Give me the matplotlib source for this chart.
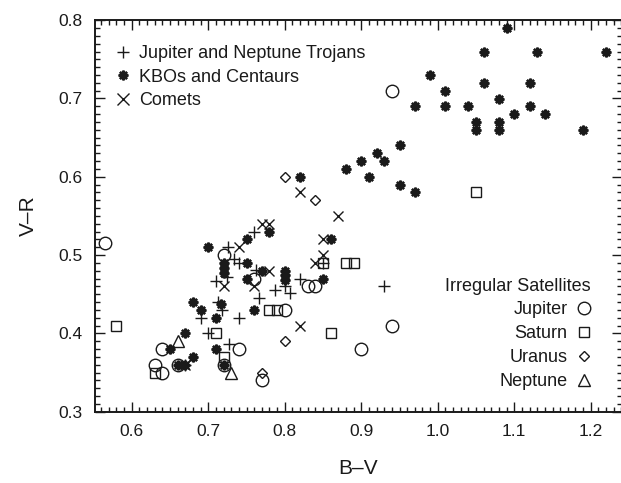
import matplotlib
matplotlib.use("Agg")
import matplotlib.pyplot as plt
from matplotlib.lines import Line2D
from matplotlib.ticker import MultipleLocator, FormatStrFormatter

plt.rcParams['font.family'] = ['Liberation Sans', 'DejaVu Sans']

# B-V, V-R colours
trojans_bv = [0.67, 0.69, 0.70, 0.71, 0.713, 0.718, 0.724, 0.727, 0.726, 0.733, 0.74, 0.74,
              0.76, 0.762, 0.766, 0.787, 0.80, 0.807, 0.82, 0.85, 0.93]
trojans_vr = [0.36, 0.42, 0.40, 0.467, 0.44, 0.43, 0.472, 0.386, 0.51, 0.495, 0.49, 0.42,
              0.53, 0.481, 0.445, 0.455, 0.46, 0.452, 0.47, 0.49, 0.46]

kbo_bv = [1.09, 1.06, 1.13, 1.22, 0.99, 1.06, 1.12, 1.01, 1.08, 0.97, 1.01, 1.04, 1.12, 1.10,
          1.14, 1.05, 1.05, 1.08, 1.08, 1.19, 0.95, 0.92, 0.90, 0.93, 0.88, 0.91, 0.95, 0.97,
          0.82, 0.78, 0.86, 0.77, 0.80, 0.80, 0.80, 0.85, 0.75, 0.70, 0.72, 0.72, 0.72, 0.75,
          0.75, 0.76, 0.68, 0.69, 0.717, 0.71, 0.71, 0.72, 0.68, 0.67, 0.65, 0.66, 0.67]
kbo_vr = [0.79, 0.76, 0.76, 0.76, 0.73, 0.72, 0.72, 0.71, 0.70, 0.69, 0.69, 0.69, 0.69, 0.68,
          0.68, 0.67, 0.66, 0.67, 0.66, 0.66, 0.64, 0.63, 0.62, 0.62, 0.61, 0.60, 0.59, 0.58,
          0.60, 0.53, 0.52, 0.48, 0.48, 0.474, 0.468, 0.47, 0.52, 0.51, 0.49, 0.483, 0.477, 0.49,
          0.47, 0.43, 0.44, 0.43, 0.438, 0.42, 0.38, 0.36, 0.37, 0.40, 0.38, 0.36, 0.36]

comets_bv = [0.82, 0.87, 0.77, 0.78, 0.85, 0.85, 0.84, 0.78, 0.74, 0.72, 0.76, 0.82, 0.67]
comets_vr = [0.58, 0.55, 0.54, 0.54, 0.52, 0.50, 0.49, 0.48, 0.51, 0.46, 0.46, 0.41, 0.36]

jupiter_bv = [0.565, 0.94, 0.72, 0.76, 0.83, 0.84, 0.80, 0.94, 0.90, 0.77, 0.74, 0.72, 0.66,
              0.64, 0.63, 0.64]
jupiter_vr = [0.515, 0.71, 0.50, 0.47, 0.46, 0.46, 0.43, 0.41, 0.38, 0.34, 0.38, 0.36, 0.36,
              0.38, 0.36, 0.35]

saturn_bv = [0.58, 1.05, 0.85, 0.88, 0.89, 0.78, 0.79, 0.86, 0.71, 0.72, 0.63]
saturn_vr = [0.41, 0.58, 0.49, 0.49, 0.49, 0.43, 0.43, 0.40, 0.40, 0.37, 0.35]

uranus_bv = [0.80, 0.84, 0.80, 0.77]
uranus_vr = [0.60, 0.57, 0.39, 0.35]

neptune_bv = [0.66, 0.73]
neptune_vr = [0.39, 0.35]

INK = '#1a1a1a'
ASTERISK = (8, 2, 0)

fig = plt.figure(figsize=(6.21, 4.83), dpi=100)
ax = fig.add_axes([95 / 621, 71.3 / 483, 527 / 621, 391.5 / 483])

# small bodies
ax.plot(trojans_bv, trojans_vr, ls='none', marker='+', ms=8, mew=1.0, color=INK)
ax.plot(kbo_bv, kbo_vr, ls='none', marker=ASTERISK, ms=7, mew=1.7, color=INK)
ax.plot(comets_bv, comets_vr, ls='none', marker='x', ms=7.5, mew=1.0, color=INK)

# irregular satellites, open symbols
open_kw = dict(ls='none', mfc='none', mec=INK, mew=1.0)
ax.plot(jupiter_bv, jupiter_vr, marker='o', ms=9, **open_kw)
ax.plot(saturn_bv, saturn_vr, marker='s', ms=7.5, **open_kw)
ax.plot(uranus_bv, uranus_vr, marker='D', ms=5.5, **open_kw)
ax.plot(neptune_bv, neptune_vr, marker='^', ms=9, **open_kw)

ax.set_xlim(0.5519, 1.2408)
ax.set_ylim(0.3, 0.8)
ax.xaxis.set_major_locator(MultipleLocator(0.1))
ax.xaxis.set_minor_locator(MultipleLocator(0.01))
ax.yaxis.set_major_locator(MultipleLocator(0.1))
ax.yaxis.set_minor_locator(MultipleLocator(0.01))
ax.xaxis.set_major_formatter(FormatStrFormatter('%.1f'))
ax.yaxis.set_major_formatter(FormatStrFormatter('%.1f'))
ax.tick_params(which='both', direction='in', top=True, right=True, colors=INK,
               labelsize=12.5, width=1.0)
ax.tick_params(which='major', length=7, pad=9)
ax.tick_params(which='minor', length=3.5)
for sp in ax.spines.values():
    sp.set_linewidth(1.4)
    sp.set_color(INK)

ax.set_xlabel('B–V', fontsize=15, color=INK, labelpad=14)
ax.set_ylabel('V–R', fontsize=15, color=INK, labelpad=15)

handles1 = [
    Line2D([], [], ls='none', marker='+', ms=9, mew=1.0, color=INK),
    Line2D([], [], ls='none', marker=ASTERISK, ms=7, mew=1.7, color=INK),
    Line2D([], [], ls='none', marker='x', ms=8, mew=1.0, color=INK),
]
leg1 = ax.legend(handles1, ['Jupiter and Neptune Trojans', 'KBOs and Centaurs', 'Comets'],
                 loc='upper left', bbox_to_anchor=(0.025, 0.955), frameon=False,
                 fontsize=13, handlelength=0.8, handletextpad=0.5, labelspacing=0.36,
                 borderaxespad=0)
for t in leg1.get_texts():
    t.set_color(INK)
ax.add_artist(leg1)

handles2 = [
    Line2D([], [], marker='o', ms=9, **open_kw),
    Line2D([], [], marker='s', ms=7.5, **open_kw),
    Line2D([], [], marker='D', ms=5.5, **open_kw),
    Line2D([], [], marker='^', ms=9, **open_kw),
]
leg2 = ax.legend(handles2, ['Jupiter', 'Saturn', 'Uranus', 'Neptune'],
                 loc='lower right', bbox_to_anchor=(0.955, 0.037), frameon=False,
                 fontsize=13, markerfirst=False, handlelength=0.8, handletextpad=0.5,
                 labelspacing=0.38, borderaxespad=0, title='Irregular Satellites',
                 title_fontsize=13, alignment='right')
leg2.get_title().set_color(INK)
for t in leg2.get_texts():
    t.set_color(INK)

fig.savefig('out.png', dpi=100)
